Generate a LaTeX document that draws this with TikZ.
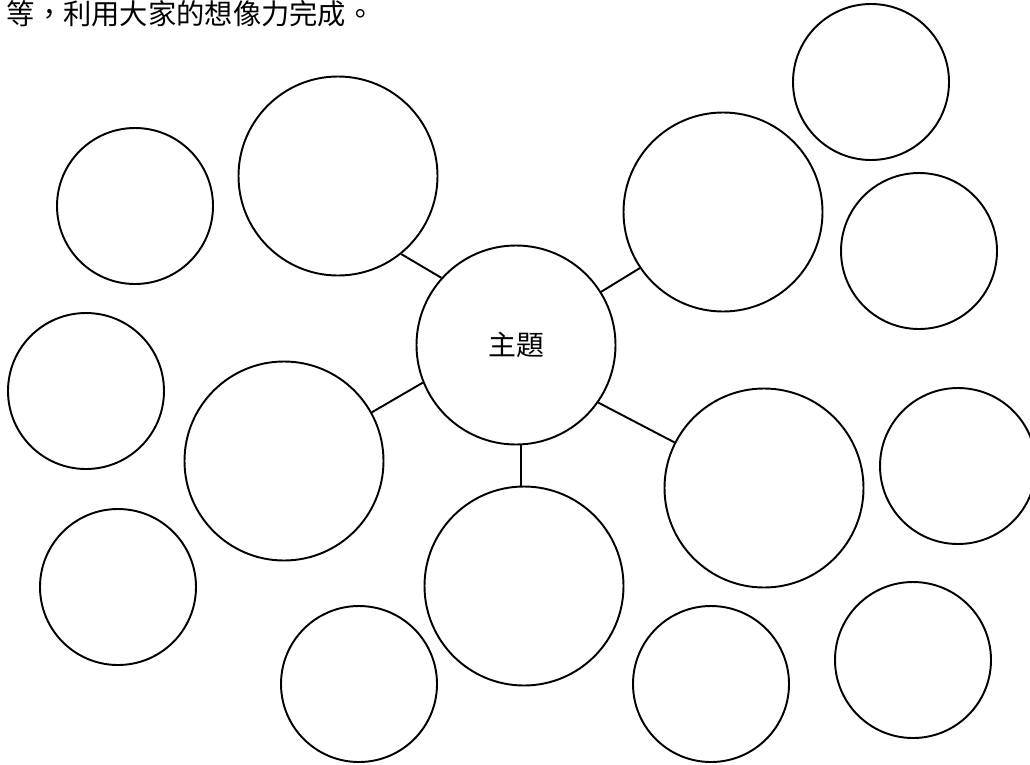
\documentclass[tikz,border=0pt]{standalone}
\usepackage{fontspec}
\newfontfamily\cjk{Noto Sans CJK TC}
\usetikzlibrary{positioning}
\tikzset{bubble/.style={circle,draw,line width=1.1pt,inner sep=0pt},
  big/.style={bubble,minimum size=199*0.02cm},
  small/.style={bubble,minimum size=156*0.02cm}}

\begin{document}
\begin{tikzpicture}[x=0.02cm,y=-0.02cm,line width=1.1pt]
\useasboundingbox (0,0) rectangle (1030,764);
\node[anchor=base west,font=\cjk\fontsize{16.1pt}{18pt}\selectfont] (note) at (0,24) {等，利用大家的想像力完成。};

% main bubbles
\node[big,font=\cjk\fontsize{15.9pt}{18pt}\selectfont] (topic) at (516,345) {主題};
\node[big] (nw) at (338,176) {};
\node[big] (ne) at (723,212) {};
\node[big] (w) at (284,461) {};
\node[big] (s) at (524,586) {};
\node[big] (e) at (764,488) {};

% small bubbles
\foreach \n/\x/\y in {a/135/206,b/86/391,c/118/587,d/359/684,f/871/82,g/919/251,h/958/466,i/711/684,j/913/660} {
\node[small] (\n) at (\x,\y) {};
};

\draw (topic.138) -- (nw.-51);
\draw (topic.32) -- (ne.214);
\draw (topic.202) -- (w.29);
\draw (topic.-87) -- (topic.-87 |- s.north);
\draw (topic.-35) -- (e.153);
\end{tikzpicture}
\end{document}
